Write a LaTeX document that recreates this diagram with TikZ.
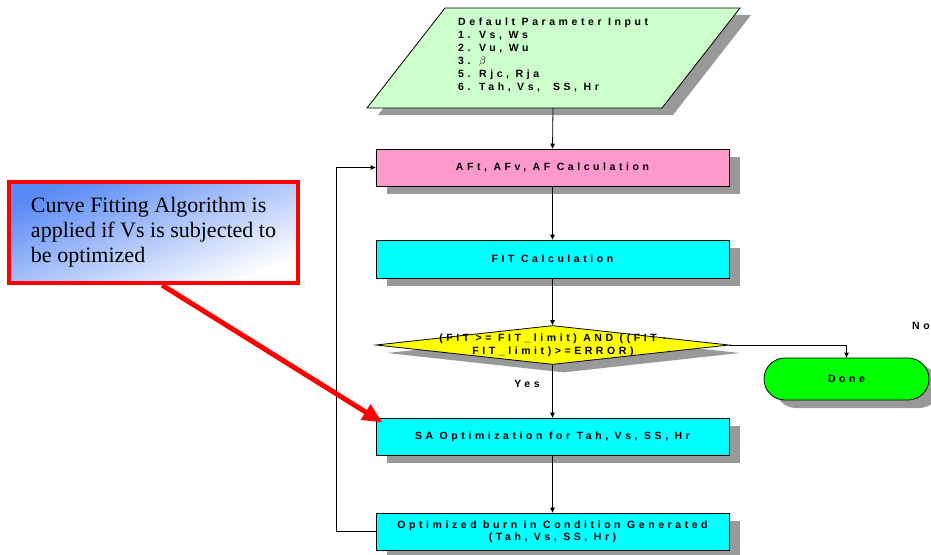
\documentclass[tikz,border=0pt]{standalone}
\usepackage{fontspec}
\setmainfont{Liberation Serif}
\newfontfamily\flowfont[LetterSpace=34]{Liberation Sans Bold}
\usetikzlibrary{shapes.geometric,shadows,arrows.meta,calc}
\definecolor{inputc}{HTML}{CCFFCC}
\definecolor{pinkc}{HTML}{FF99CC}
\definecolor{cyanc}{HTML}{00FFFF}
\definecolor{yellowc}{HTML}{FFFF00}
\definecolor{greenc}{HTML}{00FF00}
\definecolor{shadowc}{HTML}{999999}
\definecolor{calloutc}{HTML}{5A8AF5}
\begin{document}
\begin{tikzpicture}[x=1pt,y=-1pt,
  ftxt/.style={font={\flowfont\fontsize{10.5pt}{12pt}\selectfont}},
  shadowed/.style={drop shadow={shadow xshift=11pt, shadow yshift=-8pt, fill=shadowc, opacity=1}},
  procbox/.style={ftxt, draw=black, line width=0.8pt, minimum width=353pt, minimum height=37pt, inner sep=0pt, align=center, shadowed},
  flowline/.style={draw=black, line width=0.8pt, -{Triangle[length=5pt,width=4.5pt]}}]
\useasboundingbox (0,0) rectangle (931,554);

% input parallelogram
\fill[shadowc] (456,15) -- (751,15) -- (673,115) -- (378,115) -- cycle;
\filldraw[fill=inputc, draw=black, line width=0.8pt] (445,8) -- (740,8) -- (662,108) -- (367,108) -- cycle;
\node[anchor=north west, align=left, inner sep=0pt, font={\flowfont\fontsize{10.5pt}{13pt}\selectfont}] (input) at (458,18)
  {Default Parameter Input\\1. Vs, Ws\\2. Vu, Wu\\3. {\normalfont\fontsize{10.5pt}{13pt}\selectfont$\beta$}\\5. Rjc, Rja\\6. Tah, Vs,\ \ SS, Hr};
\coordinate (inbot) at (553,108);

% process boxes
\node[procbox, fill=pinkc] (pink) at (552.5,167.5) {AFt, AFv, AF Calculation};
\node[procbox, fill=cyanc, minimum height=38pt] (fit) at (552.5,259) {FIT Calculation};
\node[draw=black, line width=0.8pt, fill=yellowc, shape=diamond, minimum width=353pt, minimum height=39pt, inner sep=0pt, shadowed] (dia) at (552.5,345) {};
\node[align=center, inner sep=0pt, font={\flowfont\fontsize{10.5pt}{13pt}\selectfont}] (diatxt) at (553,345) {(FIT >= FIT\_limit) AND ((FIT -\\FIT\_limit)>=ERROR)};
\node[procbox, fill=cyanc] (sa) at (552.5,436.5) {SA Optimization for Tah, Vs, SS, Hr};
\node[procbox, fill=cyanc] (last) at (552.5,531.5) {Optimized burn in Condition Generated\\(Tah, Vs, SS, Hr)};
\node[ftxt, draw=black, line width=0.8pt, fill=greenc, minimum width=165pt, minimum height=42pt, rounded corners=21pt, inner sep=0pt, shadowed] (done) at (846.5,379) {Done};

% labels
\node[ftxt, inner sep=0pt] (yes) at (527,384) {Yes};
\node[ftxt, inner sep=0pt, anchor=west] (no) at (912,326) {No};

% connectors
\draw[flowline] (inbot) -- (pink.north);
\draw[flowline] (pink.south) -- (fit.north);
\draw[flowline] (fit.south) -- (dia.north);
\draw[flowline] (dia.south) -- (sa.north);
\draw[flowline] (sa.south) -- (last.north);
\draw[flowline] (last.west) -- ++(-39,0) |- (pink.west);
\draw[flowline] (dia.east) -| (done.north);

% callout
\node[draw=red, line width=4.5pt, left color=calloutc, right color=white, shading angle=22,
  minimum width=289pt, minimum height=101pt, align=left, inner sep=0pt,
  font={\fontsize{22pt}{25pt}\selectfont}] (callout) at (153.5,232.5)
  {Curve Fitting Algorithm is\\applied if Vs is subjected to\\be optimized};
\draw[red, line width=5pt, -{Triangle[length=20pt,width=17pt]}]
  ($(callout.south west)!0.53!(callout.south east)$) -- ($(sa.north west)+(7,5)$);
\end{tikzpicture}
\end{document}
